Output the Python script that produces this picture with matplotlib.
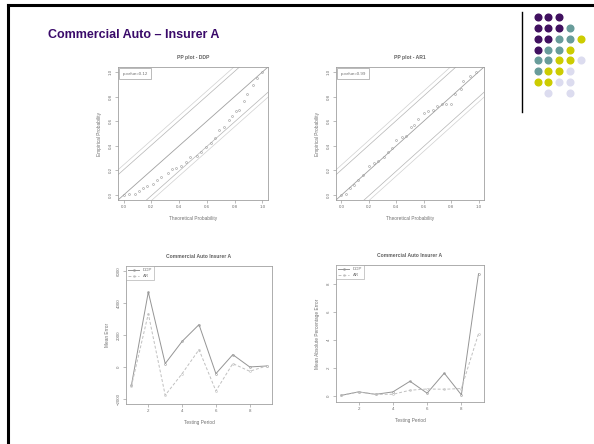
import matplotlib.pyplot as plt
import numpy as np

plt.rcParams["font.family"] = ["Liberation Sans", "DejaVu Sans"]

# ---------------- Data ----------------
# PP plot - DDP (theoretical, empirical)
ddp_theo = [0.0, 0.04, 0.08, 0.11, 0.14, 0.17, 0.21, 0.24, 0.27, 0.32, 0.35, 0.38,
            0.41, 0.45, 0.48, 0.53, 0.56, 0.59, 0.63, 0.66, 0.69, 0.72, 0.76, 0.78,
            0.81, 0.83, 0.87, 0.89, 0.93, 0.96, 1.0]
ddp_emp = [0.0, 0.01, 0.01, 0.03, 0.06, 0.07, 0.09, 0.12, 0.15, 0.18, 0.21, 0.22,
           0.24, 0.27, 0.31, 0.32, 0.35, 0.39, 0.42, 0.46, 0.53, 0.55, 0.61, 0.64,
           0.68, 0.69, 0.76, 0.82, 0.89, 0.95, 1.0]

# PP plot - AR1
ar_theo = [0.0, 0.03, 0.06, 0.09, 0.12, 0.16, 0.20, 0.24, 0.27, 0.31, 0.34, 0.37,
           0.40, 0.44, 0.47, 0.51, 0.53, 0.56, 0.60, 0.63, 0.67, 0.70, 0.73, 0.76,
           0.80, 0.83, 0.87, 0.89, 0.94, 0.98]
ar_emp = [0.0, 0.01, 0.06, 0.08, 0.12, 0.16, 0.24, 0.26, 0.28, 0.31, 0.35, 0.38,
          0.45, 0.47, 0.48, 0.55, 0.57, 0.62, 0.67, 0.68, 0.69, 0.72, 0.74, 0.74,
          0.74, 0.82, 0.86, 0.93, 0.97, 1.0]

band_inner = 0.205
band_outer = 0.245

# Testing period results
period = [1, 2, 3, 4, 5, 6, 7, 8, 9]
me_ddp = [-1150, 4690, 210, 1600, 2650, -420, 770, 0, 60]
me_ar = [-1200, 3330, -1770, -420, 1080, -1500, 210, -270, 60]
mape_ddp = [0.05, 0.29, 0.12, 0.29, 1.05, 0.20, 1.63, 0.08, 8.72]
mape_ar = [0.05, 0.29, 0.12, 0.12, 0.41, 0.50, 0.48, 0.53, 4.45]

# Decorative dot grid (rows top to bottom, P=purple T=teal Y=yellow L=lavender)
dot_rows = ["PPP..", "PPPT.", "PPTTY", "PTTY.", "TTYYL", "TYYL.", "YYLL.", ".L.L."]
dot_colors = {"P": "#40105f", "T": "#689c9a", "Y": "#cccc00", "L": "#dcdcef"}

TXT = "#707070"


def r_style(ax):
    for s in ax.spines.values():
        s.set_color("#a0a0a0")
        s.set_linewidth(0.6)
    ax.tick_params(length=2, width=0.5, colors="#a0a0a0", labelcolor=TXT,
                   labelsize=3.2, pad=1.5)
    for lab in ax.get_yticklabels():
        lab.set_rotation(90)
        lab.set_va("center")


fig = plt.figure(figsize=(5.94, 4.44), dpi=100)

# slide border (top + left)
fig.add_artist(plt.Line2D([7.5 / 594, 1], [1 - 5.5 / 444, 1 - 5.5 / 444],
                          color="black", lw=2.2, transform=fig.transFigure))
fig.add_artist(plt.Line2D([7.5 / 594, 7.5 / 594], [0, 1 - 5.5 / 444],
                          color="black", lw=2.2, transform=fig.transFigure))

fig.text(48 / 594, 1 - 35 / 444, "Commercial Auto \u2013 Insurer A", fontsize=9,
         fontweight="bold", color="#3a0a6a", va="center", ha="left")

# vertical rule and dots
fig.add_artist(plt.Line2D([521.7 / 594, 521.7 / 594], [1 - 12 / 444, 1 - 112 / 444],
                          color="black", lw=1.0, transform=fig.transFigure))
for r, row in enumerate(dot_rows):
    for c, ch in enumerate(row):
        if ch == ".":
            continue
        cx = (537.7 + c * 10.75) / 594
        cy = 1 - (17.3 + r * 10.8) / 444
        fig.add_artist(plt.Line2D([cx], [cy], marker="o", markersize=4.8,
                                  color=dot_colors[ch], lw=0,
                                  transform=fig.transFigure))

# ---------------- PP plots ----------------
pp_panels = [
    ([118 / 594, 1 - 200 / 444, 150 / 594, 133 / 444], ddp_theo, ddp_emp,
     "PP plot - DDP", "p-value=0.12"),
    ([336 / 594, 1 - 200 / 444, 148 / 594, 133 / 444], ar_theo, ar_emp,
     "PP plot - AR1", "p-value=0.99"),
]
line_x = np.array([-0.1, 1.1])
for rect, xt, ye, title, pval in pp_panels:
    ax = fig.add_axes(rect)
    ax.plot(line_x, line_x, color="#a0a0a0", lw=0.6)
    for off in (band_inner, -band_inner):
        ax.plot(line_x, line_x + off, color="#b4b4b4", lw=0.5)
    for off in (band_outer, -band_outer):
        ax.plot(line_x, line_x + off, color="#d0d0d0", lw=0.5)
    ax.plot(xt, ye, linestyle="none", marker="o", markersize=1.4,
            markerfacecolor="none", markeredgecolor="#999999", markeredgewidth=0.4)
    ax.set_xlim(-0.04, 1.04)
    ax.set_ylim(-0.04, 1.04)
    ax.set_xticks([0.0, 0.2, 0.4, 0.6, 0.8, 1.0])
    ax.set_yticks([0.0, 0.2, 0.4, 0.6, 0.8, 1.0])
    ax.set_xticklabels(["0.0", "0.2", "0.4", "0.6", "0.8", "1.0"])
    ax.set_yticklabels(["0.0", "0.2", "0.4", "0.6", "0.8", "1.0"])
    ax.set_title(title, fontsize=3.6, fontweight="bold", color="#606060", pad=6)
    ax.set_xlabel("Theoretical Probability", fontsize=3.4, color=TXT, labelpad=5)
    ax.set_ylabel("Empirical Probability", fontsize=3.4, color=TXT, labelpad=5)
    ax.text(0.03, 0.965, pval, transform=ax.transAxes, fontsize=3.2, color=TXT,
            va="top", ha="left",
            bbox=dict(boxstyle="square,pad=0.8", fc="white", ec="#a0a0a0", lw=0.5))
    r_style(ax)

# ---------------- Error plots ----------------
ax3 = fig.add_axes([126 / 594, 1 - 404 / 444, 146 / 594, 138 / 444])
ax3.plot(period, me_ddp, color="#959595", lw=0.7, marker="o", markersize=1.4,
         markerfacecolor="none", markeredgewidth=0.4, label="DDP")
ax3.plot(period, me_ar, color="#c0c0c0", lw=0.7, ls=(0, (3, 2)), marker="o",
         markersize=1.4, markerfacecolor="none", markeredgewidth=0.4, label="AR")
ax3.set_xlim(0.68, 9.32)
ax3.set_ylim(-2320, 6320)
ax3.set_xticks([2, 4, 6, 8])
ax3.set_yticks([-2000, 0, 2000, 4000, 6000])
ax3.set_title("Commercial Auto Insurer A", fontsize=3.6, fontweight="bold",
              color="#606060", pad=6)
ax3.set_xlabel("Testing Period", fontsize=3.4, color=TXT, labelpad=5)
ax3.set_ylabel("Mean Error", fontsize=3.4, color=TXT, labelpad=5)

ax4 = fig.add_axes([336 / 594, 1 - 402 / 444, 148 / 594, 137 / 444])
ax4.plot(period, mape_ddp, color="#959595", lw=0.7, marker="o", markersize=1.4,
         markerfacecolor="none", markeredgewidth=0.4, label="DDP")
ax4.plot(period, mape_ar, color="#c0c0c0", lw=0.7, ls=(0, (3, 2)), marker="o",
         markersize=1.4, markerfacecolor="none", markeredgewidth=0.4, label="AR")
ax4.set_xlim(0.68, 9.32)
ax4.set_ylim(-0.43, 9.35)
ax4.set_xticks([2, 4, 6, 8])
ax4.set_yticks([0, 2, 4, 6, 8])
ax4.set_title("Commercial Auto Insurer A", fontsize=3.6, fontweight="bold",
              color="#606060", pad=6)
ax4.set_xlabel("Testing Period", fontsize=3.4, color=TXT, labelpad=5)
ax4.set_ylabel("Mean Absolute Percentage Error", fontsize=3.4, color=TXT, labelpad=5)

for ax in (ax3, ax4):
    leg = ax.legend(loc="upper left", fontsize=3.2, frameon=True, fancybox=False,
                    borderaxespad=0.0, handlelength=2.5, borderpad=0.5,
                    labelspacing=0.4)
    leg.get_frame().set_edgecolor("#a0a0a0")
    leg.get_frame().set_linewidth(0.5)
    for t in leg.get_texts():
        t.set_color(TXT)
    r_style(ax)

fig.savefig("out.png", dpi=100, facecolor="white")
